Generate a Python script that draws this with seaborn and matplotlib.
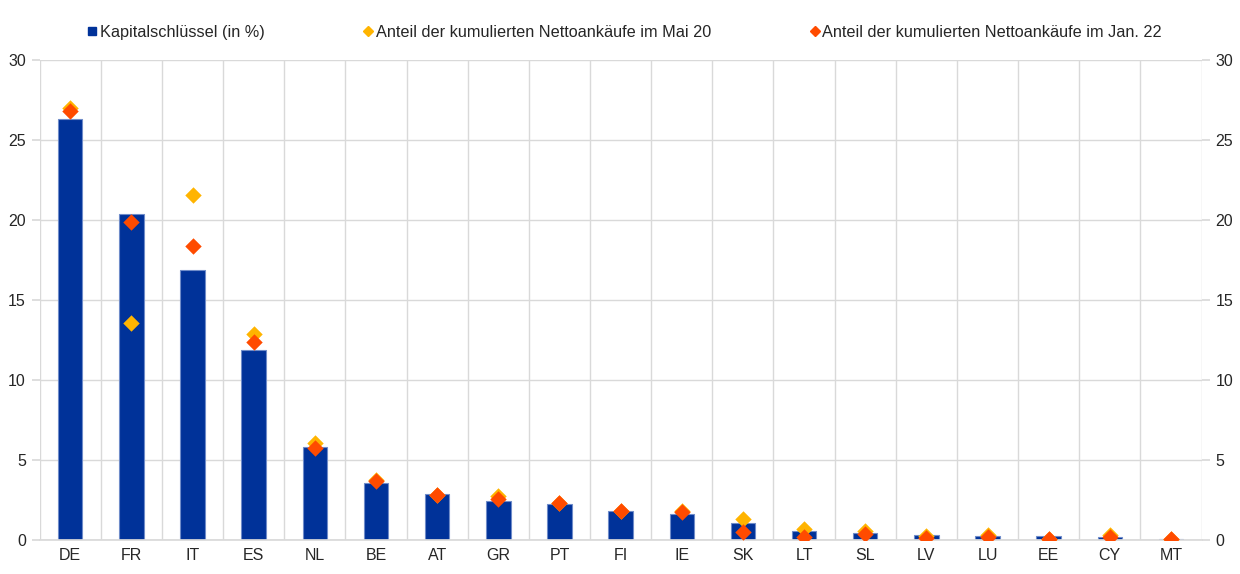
import numpy as np
import pandas as pd
import seaborn as sns
import matplotlib.pyplot as plt
from matplotlib.lines import Line2D

# Country codes and shares (in %)
countries = ['DE', 'FR', 'IT', 'ES', 'NL', 'BE', 'AT', 'GR', 'PT', 'FI',
             'IE', 'SK', 'LT', 'SL', 'LV', 'LU', 'EE', 'CY', 'MT']
capital_key = [26.3, 20.4, 16.9, 11.9, 5.8, 3.6, 2.9, 2.45, 2.25, 1.8,
               1.65, 1.1, 0.56, 0.45, 0.33, 0.28, 0.25, 0.2, 0.09]
share_may20 = [27.0, 13.6, 21.6, 12.9, 6.05, 3.75, 2.85, 2.75, 2.3, 1.85,
               1.8, 1.35, 0.7, 0.55, 0.25, 0.3, 0.05, 0.3, 0.05]
share_jan22 = [26.8, 19.9, 18.4, 12.4, 5.75, 3.7, 2.85, 2.6, 2.3, 1.8,
               1.75, 0.5, 0.2, 0.4, 0.15, 0.2, 0.05, 0.2, 0.05]

labels = ['Kapitalschlüssel (in %)',
          'Anteil der kumulierten Nettoankäufe im Mai 20',
          'Anteil der kumulierten Nettoankäufe im Jan. 22']

blue = '#003299'
yellow = '#FFB400'
orange = '#FF4B00'

df = pd.DataFrame({'country': countries, 'key': capital_key,
                   'may20': share_may20, 'jan22': share_jan22})

sns.set_theme(style='white')
plt.rcParams['font.family'] = ['Liberation Sans', 'DejaVu Sans']

fig = plt.figure(figsize=(12.4, 5.74), dpi=100)
ax = fig.add_axes([0.032, 0.059, 0.937, 0.836])

sns.barplot(data=df, x='country', y='key', color=blue, width=0.4,
            saturation=1, edgecolor='#6f8cc9', linewidth=0.8, ax=ax, zorder=2)
sns.scatterplot(data=df, x='country', y='may20', color=yellow, marker='D',
                s=70, linewidth=0, ax=ax, zorder=3)
sns.scatterplot(data=df, x='country', y='jan22', color=orange, marker='D',
                s=70, linewidth=0, ax=ax, zorder=4)

ax.set_xlim(-0.5, len(countries) - 0.5)
ax.set_ylim(0, 30)
ax.set_yticks(np.arange(0, 31, 5))
ax.set_xticks(np.arange(-0.5, len(countries), 1), minor=True)
ax.set_xlabel('')
ax.set_ylabel('')

ax.grid(axis='y', which='major', color='#d9d9d9', linewidth=1, zorder=0)
ax.grid(axis='x', which='minor', color='#d9d9d9', linewidth=1, zorder=0)
ax.grid(axis='x', which='major', visible=False)
for s in ['top', 'right', 'left']:
    ax.spines[s].set_visible(False)
ax.spines['bottom'].set_color('#d9d9d9')

ax.tick_params(axis='x', which='both', length=0, labelsize=11.5, pad=6)
ax.tick_params(axis='y', length=6, color='#d9d9d9', labelsize=11.5, pad=4,
               left=True)

ax2 = ax.twinx()
ax2.set_ylim(ax.get_ylim())
ax2.set_yticks(np.arange(0, 31, 5))
for s in ax2.spines.values():
    s.set_visible(False)
ax2.tick_params(axis='y', length=6, color='#d9d9d9', labelsize=11.5, pad=4,
                right=True)

handles = [Line2D([], [], marker='s', color=blue, linestyle='', markersize=6),
           Line2D([], [], marker='D', color=yellow, linestyle='', markersize=5),
           Line2D([], [], marker='D', color=orange, linestyle='', markersize=5)]
fig.legend(handles, labels, loc='center', bbox_to_anchor=(0.503, 0.944),
           ncol=3, frameon=False, fontsize=11.7, handletextpad=0.05,
           handlelength=0.8, columnspacing=6.0)

fig.savefig('out.png', dpi=100)
